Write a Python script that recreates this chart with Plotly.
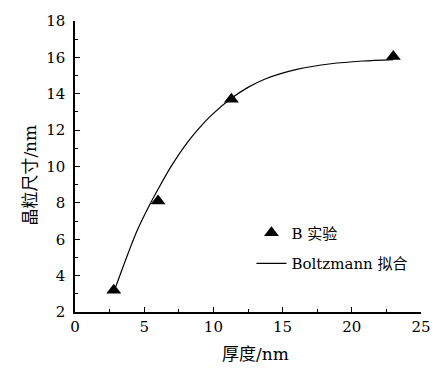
import plotly.graph_objects as go

# Experimental data (B 实验)
exp_x = [2.8, 6.0, 11.3, 23.0]
exp_y = [3.2, 8.1, 13.7, 16.05]

# Boltzmann fit curve
fit_x = [2.9, 3.8, 4.5, 5.5, 6.0, 6.9, 8.1, 9.2, 9.9, 11.3, 12.5, 13.7, 16.1, 18.5, 20.8, 23.0]
fit_y = [3.3, 5.15, 6.5, 8.05, 8.75, 9.95, 11.3, 12.3, 12.85, 13.75, 14.35, 14.8, 15.35, 15.65, 15.8, 15.88]

x_ticks = [0, 5, 10, 15, 20, 25]
y_ticks = [2, 4, 6, 8, 10, 12, 14, 16, 18]

x_title = "厚度/nm"
y_title = "晶粒尺寸/nm"

FONT = "'DejaVu Serif', 'Liberation Serif', 'Noto Sans CJK SC', serif"

fig = go.Figure()
fig.add_trace(go.Scatter(
    x=exp_x, y=exp_y, mode="markers", name="B 实验",
    marker=dict(symbol="triangle-up", size=13, color="black"),
    legendgroup="a",
))
fig.add_trace(go.Scatter(
    x=fit_x, y=fit_y, mode="lines", name="Boltzmann 拟合",
    line=dict(color="black", width=1.2, shape="spline", smoothing=0.8),
    legendgroup="b",
))

axis_common = dict(
    showline=True, linecolor="black", linewidth=1.5,
    ticks="inside", ticklen=5, tickwidth=1.2, tickcolor="black",
    showgrid=False, zeroline=False, mirror=False,
    tickfont=dict(family=FONT, size=15, color="black"),
)

fig.update_xaxes(
    range=[0, 25], tickvals=x_ticks, ticktext=[str(v) for v in x_ticks],
    minor=dict(dtick=2.5, tick0=0, ticks="inside", ticklen=3, tickcolor="black", tickwidth=1.2),
    **axis_common,
)
fig.update_yaxes(
    range=[2, 18], tickvals=y_ticks, ticktext=[str(v) for v in y_ticks],
    minor=dict(dtick=1, tick0=0, ticks="inside", ticklen=3, tickcolor="black", tickwidth=1.2),
    ticklabelstandoff=5,
    **axis_common,
)

fig.add_annotation(
    text=x_title, xref="paper", yref="paper", x=0.521, y=-0.146,
    xanchor="center", yanchor="middle", showarrow=False,
    font=dict(family=FONT, size=17, color="black"),
)
fig.add_annotation(
    text=y_title, xref="paper", yref="paper", x=-0.131, y=0.471,
    xanchor="center", yanchor="middle", showarrow=False, textangle=-90,
    font=dict(family=FONT, size=17, color="black"),
)

fig.update_layout(
    width=443, height=371,
    margin=dict(l=75, r=18, t=13, b=59),
    plot_bgcolor="white", paper_bgcolor="white",
    font=dict(family=FONT, size=15, color="black"),
    showlegend=True,
    legend=dict(
        x=0.51, y=0.328, xanchor="left", yanchor="top",
        bgcolor="rgba(0,0,0,0)", borderwidth=0,
        font=dict(family=FONT, size=15, color="black"),
        traceorder="grouped", tracegroupgap=8,
    ),
)

fig.write_html("out.html")
